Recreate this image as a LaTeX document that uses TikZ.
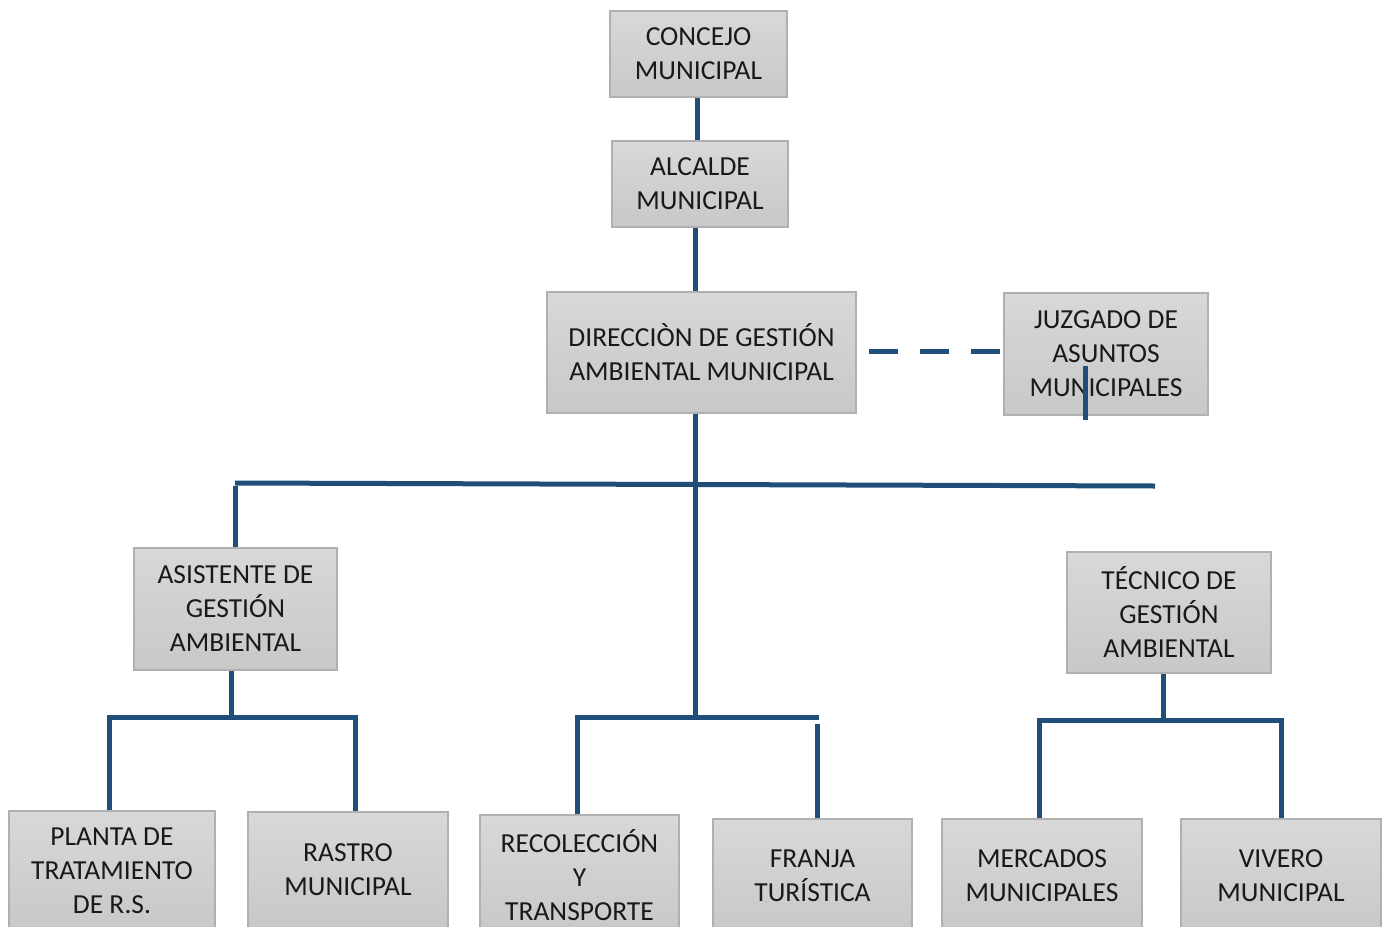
\documentclass[tikz,border=0pt]{standalone}
\usepackage{fontspec}
\setmainfont{Carlito}
\definecolor{linec}{HTML}{1F4E79}
\definecolor{boxtop}{HTML}{D8D8D8}
\definecolor{boxbot}{HTML}{C8C8C8}
\definecolor{boxline}{HTML}{B0B0B0}
\tikzset{
  orgbox/.style={draw=boxline, line width=1.2pt, top color=boxtop, bottom color=boxbot,
    align=center, inner sep=0pt, text=black!90,
    font=\fontsize{27.5}{34}\selectfont},
  conn/.style={draw=linec, line width=5pt, line cap=butt},
}
\begin{document}
\begin{tikzpicture}[x=1pt,y=-1pt]
\useasboundingbox (0,0) rectangle (1386,926);
\clip (0,0) rectangle (1386,926);
\fill[white] (0,0) rectangle (1386,926);
% boxes
\node[orgbox, minimum width=177, minimum height=86] (concejo) at (698.5,54) {CONCEJO\\MUNICIPAL};
\node[orgbox, minimum width=176, minimum height=86] (alcalde) at (700,184) {ALCALDE\\MUNICIPAL};
\node[orgbox, minimum width=309, minimum height=121] (direccion) at (701.5,352.5) {DIRECCIÒN DE GESTIÓN\\AMBIENTAL MUNICIPAL};
\node[orgbox, minimum width=204, minimum height=122] (juzgado) at (1106,354) {JUZGADO DE\\ASUNTOS\\MUNICIPALES};
\node[orgbox, minimum width=203, minimum height=122] (asistente) at (235.5,609) {ASISTENTE DE\\GESTIÓN\\AMBIENTAL};
\node[orgbox, minimum width=204, minimum height=121] (tecnico) at (1169,612.5) {TÉCNICO DE\\GESTIÓN\\AMBIENTAL};
\node[orgbox, minimum width=206, minimum height=120] (planta) at (112,871) {PLANTA DE\\TRATAMIENTO\\DE R.S.};
\node[orgbox, minimum width=200, minimum height=116] (rastro) at (348,870) {RASTRO\\MUNICIPAL};
\node[orgbox, minimum width=199, minimum height=120] (recoleccion) at (579.5,875) {RECOLECCIÓN\\Y\\TRANSPORTE};
\node[orgbox, minimum width=199, minimum height=114] (franja) at (812.5,876) {FRANJA\\TURÍSTICA};
\node[orgbox, minimum width=200, minimum height=114] (mercados) at (1042,876) {MERCADOS\\MUNICIPALES};
\node[orgbox, minimum width=200, minimum height=114] (vivero) at (1281,876) {VIVERO\\MUNICIPAL};
% junction coordinates
\coordinate (top1) at (697,0);
\coordinate (trunk) at (695,717);
\coordinate (bL) at (235,483);
\coordinate (bR) at (1155,486);
\coordinate (aj) at (231,717);
\coordinate (ajL) at (109,717);
\coordinate (ajR) at (355,717);
\coordinate (mL) at (577,717);
\coordinate (mR) at (819,717);
\coordinate (fr) at (817,724);
\coordinate (tj) at (1163,720);
\coordinate (tL) at (1039,720);
\coordinate (tR) at (1281,720);
\coordinate (dS) at (869,351);
\coordinate (dE) at (1003,351);
\coordinate (jz1) at (1085,366);
\coordinate (jz2) at (1085,420);
% connectors
\draw[conn] (concejo.south -| top1) -- (alcalde.north -| top1);
\draw[conn] (alcalde.south -| trunk) -- (direccion.north -| trunk);
\draw[conn] (direccion.south -| trunk) -- (trunk);
\draw[conn] (bL) -- (bR);
\draw[conn] (asistente.north -| bL) -- ([yshift=-2.5]bL);
\draw[conn] (asistente.south -| aj) -- (aj);
\draw[conn] (planta.north -| ajL) -- (ajL) -- (ajR) -- (rastro.north -| ajR);
\draw[conn] (recoleccion.north -| mL) -- (mL) -- (mR);
\draw[conn] (franja.north -| fr) -- (fr);
\draw[conn] (tecnico.south -| tj) -- (tj);
\draw[conn] (mercados.north -| tL) -- (tL) -- (tR) -- (vivero.north -| tR);
\draw[conn, dash pattern=on 29pt off 22pt] (dS) -- (dE);
\draw[conn] (jz1) -- (jz2);
\end{tikzpicture}
\end{document}
